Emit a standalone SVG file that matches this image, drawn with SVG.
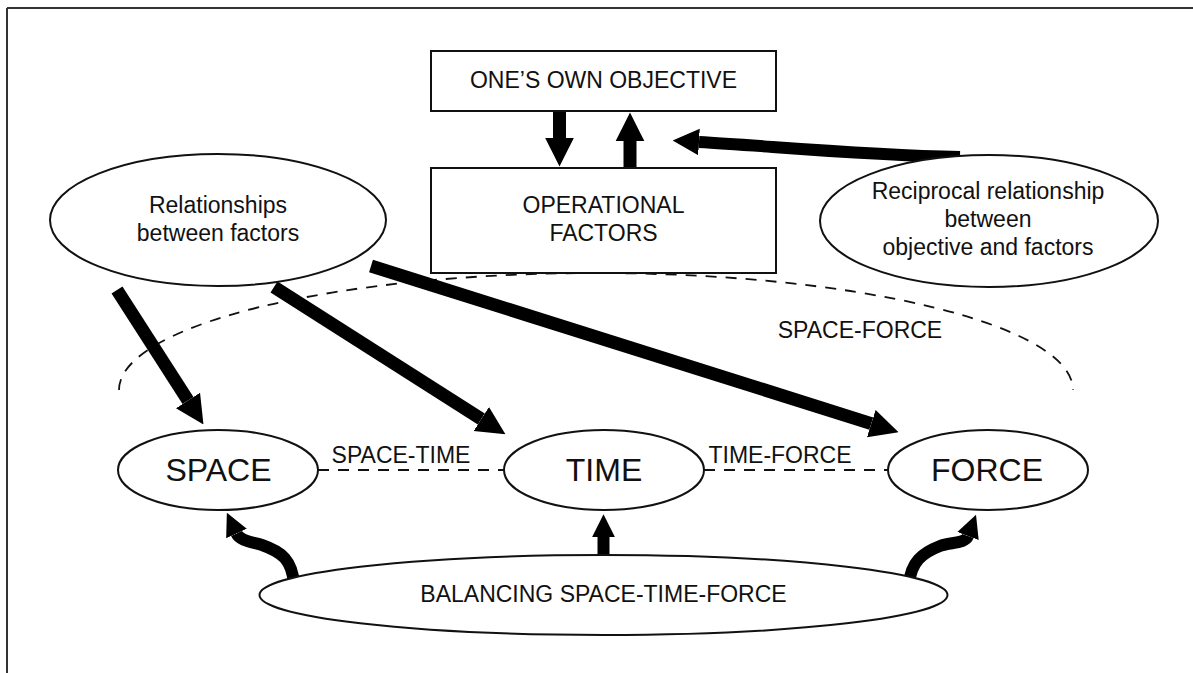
<svg xmlns="http://www.w3.org/2000/svg" width="1193" height="673" viewBox="0 0 1193 673">
  <style>
    .box { fill: #fff; stroke: #111; stroke-width: 2; }
    .node { fill: #fff; stroke: #111; stroke-width: 2; }
    .txt { font-family: "Liberation Sans", Arial, sans-serif; font-size: 23px; fill: #111; text-anchor: middle; }
    .big { font-size: 32px; }
    .dash { fill: none; stroke: #111; stroke-width: 1.8; stroke-dasharray: 11 9; }
    .thick { fill: none; stroke: #000; stroke-width: 13; }
    .mid { fill: none; stroke: #000; stroke-width: 12; }
  </style>
  <defs>
    <marker id="head" viewBox="0 0 10 10" refX="0" refY="5" markerWidth="2.2" markerHeight="2.3" orient="auto" markerUnits="strokeWidth">
      <path d="M0,0 L10,5 L0,10 z" fill="#000"/>
    </marker>
    <marker id="headS" viewBox="0 0 10 10" refX="0" refY="5" markerWidth="1.9" markerHeight="2.3" orient="auto" markerUnits="strokeWidth">
      <path d="M0,0 L10,5 L0,10 z" fill="#000"/>
    </marker>
  </defs>

  <!-- outer frame (top and left edges) -->
  <g id="frame" fill="none" stroke="#333" stroke-width="2">
    <line x1="7" y1="8" x2="1193" y2="8"/>
    <line x1="7" y1="8" x2="7" y2="673"/>
  </g>

  <g id="connectors">
    <!-- SPACE-FORCE relation: dashed arc over the three factors -->
    <path class="dash" d="M119 390 A477 117 0 0 1 1073 390"/>
    <text class="txt" x="860" y="338">SPACE-FORCE</text>

    <!-- SPACE-TIME and TIME-FORCE relations -->
    <line class="dash" x1="318" y1="470" x2="504" y2="470"/>
    <line class="dash" x1="704" y1="470" x2="888" y2="470"/>
    <text class="txt" x="401" y="463">SPACE-TIME</text>
    <text class="txt" x="780" y="463">TIME-FORCE</text>

    <!-- objective <-> operational factors -->
    <line class="thick" x1="559.5" y1="111" x2="559.5" y2="138" marker-end="url(#head)"/>
    <line class="thick" x1="630" y1="168" x2="630" y2="141" marker-end="url(#head)"/>

    <!-- reciprocal relationship feeding back to the pair -->
    <path class="mid" d="M960 157 C860 155 770 146 699 142" marker-end="url(#head)"/>

    <!-- relationships between factors -> each factor -->
    <line class="thick" x1="117" y1="290" x2="188" y2="400.4" marker-end="url(#head)"/>
    <line class="thick" x1="274" y1="287" x2="481.3" y2="419" marker-end="url(#head)"/>
    <line class="thick" x1="371" y1="266" x2="871.3" y2="423.6" marker-end="url(#head)"/>

    <!-- balancing -> each factor -->
    <path class="mid" d="M294 584 C292 560 282 552 262 545 C252 542 240 541 236.5 533.5" marker-end="url(#headS)"/>
    <line class="mid" x1="603.5" y1="560" x2="603.5" y2="537" marker-end="url(#headS)"/>
    <path class="mid" d="M909 584 C911 562 922 553 940 546 C950 542 965 544 968 536" marker-end="url(#headS)"/>
  </g>

  <g id="objective">
    <rect class="box" x="431" y="51" width="345" height="60"/>
    <text class="txt" x="603.5" y="88">ONE’S OWN OBJECTIVE</text>
  </g>

  <g id="operational-factors">
    <rect class="box" x="431" y="168" width="345" height="105"/>
    <text class="txt" x="603.5" y="213">OPERATIONAL</text>
    <text class="txt" x="603.5" y="241">FACTORS</text>
  </g>

  <g id="relationships">
    <ellipse class="node" cx="218" cy="220" rx="168" ry="66"/>
    <text class="txt" x="218" y="213">Relationships</text>
    <text class="txt" x="218" y="241">between factors</text>
  </g>

  <g id="reciprocal">
    <ellipse class="node" cx="989" cy="221" rx="169" ry="66"/>
    <text class="txt" x="988" y="199">Reciprocal relationship</text>
    <text class="txt" x="988" y="227">between</text>
    <text class="txt" x="988" y="255">objective and factors</text>
  </g>

  <g id="space">
    <ellipse class="node" cx="218" cy="470" rx="100" ry="40"/>
    <text class="txt big" x="218.5" y="481">SPACE</text>
  </g>

  <g id="time">
    <ellipse class="node" cx="604" cy="470" rx="100" ry="40"/>
    <text class="txt big" x="604" y="481">TIME</text>
  </g>

  <g id="force">
    <ellipse class="node" cx="988" cy="470" rx="100" ry="40"/>
    <text class="txt big" x="987" y="481">FORCE</text>
  </g>

  <g id="balancing">
    <ellipse class="node" cx="603.5" cy="595" rx="344" ry="40"/>
    <text class="txt" x="603.5" y="602">BALANCING SPACE-TIME-FORCE</text>
  </g>
</svg>
